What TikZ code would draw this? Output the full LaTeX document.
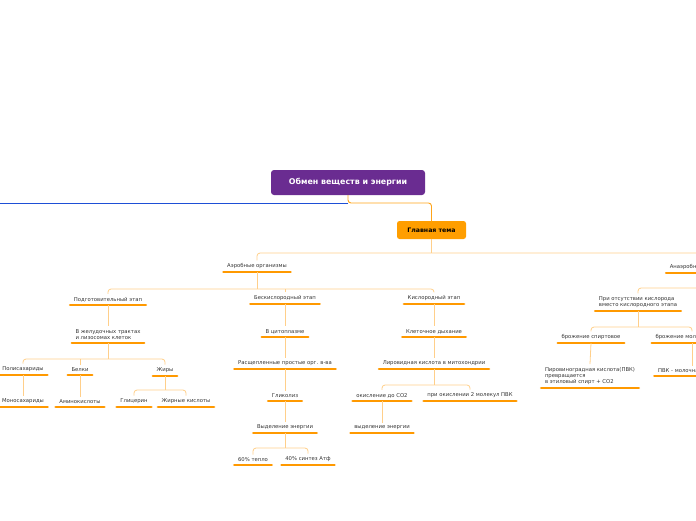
\documentclass[tikz,border=0pt]{standalone}
\usepackage{fontspec}
\setmainfont{DejaVu Sans}
\definecolor{rootpurple}{HTML}{6A2C91}
\definecolor{mainorange}{HTML}{FF9E00}
\definecolor{barorange}{HTML}{FF9900}
\definecolor{linkorange}{HTML}{FFCF8A}
\definecolor{mainlinkc}{HTML}{FFA419}
\definecolor{bluelinec}{HTML}{1E4FD6}
\definecolor{txt}{HTML}{333333}
\tikzset{
  bar/.style={draw=barorange, line width=2.6pt, line cap=round},
  topic/.style={font=\fontsize{5.3}{6.2}\selectfont, text=txt, inner xsep=3.6pt, inner ysep=3pt, anchor=south,
    append after command={(\tikzlastnode.south west) edge[bar] (\tikzlastnode.south east)}},
  mtopic/.style={topic, align=left},
  link/.style={draw=linkorange, line width=0.8pt, rounded corners=3pt},
  mainlink/.style={draw=mainlinkc, line width=0.9pt, rounded corners=3pt},
  rootbox/.style={fill=rootpurple, rounded corners=3pt, text=white, font=\bfseries\fontsize{7.9}{9}\selectfont, minimum width=154pt, minimum height=25pt, inner sep=0pt},
  mainbox/.style={fill=mainorange, rounded corners=2.5pt, text=black, font=\bfseries\fontsize{6.2}{7}\selectfont, minimum width=69pt, minimum height=18pt, inner sep=0pt},
}
\begin{document}
\begin{tikzpicture}[x=1pt,y=-1pt]
\useasboundingbox (0,0) rectangle (696,520);
\clip (0,0) rectangle (696,520);
% root and main topic
\node[rootbox] (root) at (348,182.5) {Обмен веществ и энергии};
\node[mainbox] (main) at (431.5,230) {Главная тема};
\coordinate (leftend) at (0,203);
\draw[bluelinec, line width=0.9pt] (348,203) -- (leftend);
\draw[mainlink] (root.south) -- (348,203) -| (main.north);
% level 2
\node[topic] (aero) at (257,272) {Аэробные организмы};
\node[topic] (anaero) at (703,273) {Анаэробные организмы};
\draw[link] (main.south) -- (431.5,253);
\draw[link] (aero.north) |- (431.5,253) -| (anaero.north);
% aerobic stages
\node[topic] (prep) at (108,305) {Подготовительный этап};
\node[topic] (anox) at (285,304) {Бескислородный этап};
\node[topic] (ox) at (434,304) {Кислородный этап};
\draw[link] (aero.south) -- (257,289);
\draw[link] (prep.north) |- (257,289) -| (ox.north);
\draw[link] (285,289) -- (anox.north);
% preparatory
\node[mtopic] (stom) at (108,343) {В желудочных трактах\\и лизосомах клеток};
\draw[link] (prep.south) -- (stom.north);
\node[topic] (poly) at (23,375) {Полисахариды};
\node[topic] (prot) at (80,375) {Белки};
\node[topic] (fat) at (165,376) {Жиры};
\draw[link] (stom.south) -- (108,359);
\draw[link] (poly.north) |- (108,359) -| (fat.north);
\draw[link] (80,359) -- (prot.north);
\node[topic] (mono) at (23,407) {Моносахариды};
\node[topic] (amino) at (80,407) {Аминокислоты};
\node[topic] (glyc) at (134,407) {Глицерин};
\node[topic] (fatac) at (186,407) {Жирные кислоты};
\draw[link] (poly.south) -- (mono.north);
\draw[link] (prot.south) -- (amino.north);
\draw[link] (fat.south) -- (165,390);
\draw[link] (glyc.north) |- (165,390) -| (fatac.north);
% anoxic
\node[topic] (cyto) at (285,337) {В цитоплазме};
\node[topic] (split) at (285,369) {Расщепленные простые орг. в-ва};
\node[topic] (glyco) at (285,401) {Гликолиз};
\node[topic] (energy1) at (285,433) {Выделение энергии};
\node[topic] (heat) at (253,465) {60\% тепло};
\node[topic] (atp) at (308,465) {40\% синтез Атф};
\draw[link] (anox.south) -- (cyto.north);
\draw[link] (cyto.south) -- (split.north);
\draw[link] (split.south) -- (glyco.north);
\draw[link] (glyco.south) -- (energy1.north);
\draw[link] (energy1.south) -- (285,448);
\draw[link] (heat.north) |- (285,448) -| (atp.north);
% oxygen stage
\node[topic] (resp) at (434,337) {Клеточное дыхание};
\node[topic] (pyr) at (434,369) {Лировидная кислота в митохондрии};
\node[topic] (co2) at (382,401) {окисление до CO2};
\node[topic] (pvk2) at (470,401) {при окислении 2 молекул ПВК};
\node[topic] (energy2) at (382,433) {выделение энергии};
\draw[link] (ox.south) -- (resp.north);
\draw[link] (resp.south) -- (pyr.north);
\draw[link] (pyr.south) -- (434,385);
\draw[link] (co2.north) |- (434,385) -| (pvk2.north);
\draw[link] (co2.south) -- (energy2.north);
% anaerobic
\node[mtopic] (absent) at (638,311) {При отсутствии кислорода\\вместо кислородного этапа};
\draw[link] (anaero.south) -- (703,288) -| (absent.north);
\node[topic] (alc) at (591,343) {брожение спиртовое};
\node[topic] (lac) at (692,343) {брожение молочнокислое};
\draw[link] (absent.south) -- (638,327);
\draw[link] (alc.north) |- (638,327) -| (lac.north);
\node[mtopic] (pvk) at (590,388) {Пировиноградная кислота(ПВК)\\превращается\\в этиловый спирт + CO2};
\node[topic] (lacpvk) at (692,376) {ПВК - молочная кислота};
\draw[link] (alc.south) -- (pvk.north);
\draw[link] (lac.south) -- (lacpvk.north);
\end{tikzpicture}
\end{document}
